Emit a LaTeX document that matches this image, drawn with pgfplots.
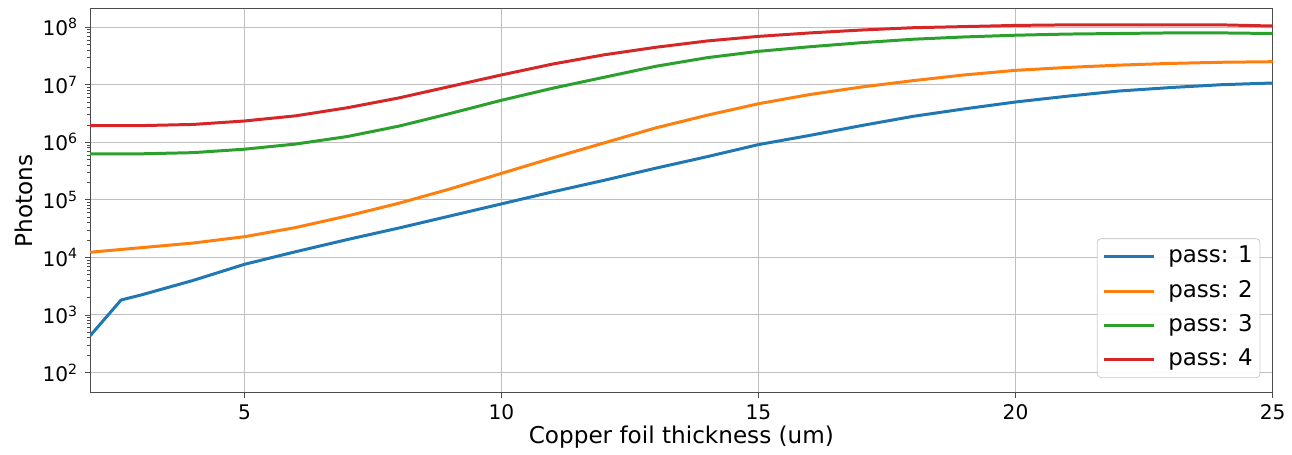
\documentclass[border=0pt]{standalone}
\usepackage{pgfplots}
\pgfplotsset{compat=1.18}
\usepackage{fontspec}
\setmainfont{DejaVu Sans}
\definecolor{c1}{HTML}{1F77B4}
\definecolor{c2}{HTML}{FF7F0E}
\definecolor{c3}{HTML}{2CA02C}
\definecolor{c4}{HTML}{D62728}
\begin{document}
\begin{tikzpicture}
\begin{axis}[name=ax,
  scale only axis, width=593pt, height=192.5pt,
  ymode=log, xmin=2, xmax=25, ymin=44.5, ymax=2.07e8,
  xtick={5,10,15,20,25},
  ytick={1e2,1e3,1e4,1e5,1e6,1e7,1e8},
  yticklabels={10\textsuperscript{2},10\textsuperscript{3},10\textsuperscript{4},10\textsuperscript{5},10\textsuperscript{6},10\textsuperscript{7},10\textsuperscript{8}},
  /pgf/number format/assume math mode=true,
  tick label style={font=\fontsize{10.1}{12}\selectfont},
  label style={font=\fontsize{11.6}{13}\selectfont},
  tick align=outside, tick pos=left,
  major tick length=2.5pt, minor tick length=1.5pt,
  every tick/.style={black!70, line width=0.4pt},
  axis line style={black!70, line width=0.5pt},
  grid=major, major grid style={color=black!25, line width=0.5pt},
  xlabel={Copper foil thickness (um)},
  ylabel={Photons},
  x label style={at={(axis description cs:0.5,-0.1143)}, anchor=center},
  y label style={at={(axis description cs:-0.0560,0.5)}, anchor=center},
  legend cell align=left,
  legend style={at={(axis description cs:0.9897,0.038)}, anchor=south east,
    draw=black!20, rounded corners=2pt, fill=white, fill opacity=0.9, text opacity=1,
    font=\fontsize{11.5}{13}\selectfont, inner sep=2.6pt, row sep=4.2pt, column sep=5.5pt,
    nodes={inner sep=1pt, text height=8.5pt, text depth=2.5pt}},
  legend image code/.code={\draw[#1] (0pt,0pt) -- (25pt,0pt);},
  every axis plot/.append style={line width=1.5pt, line join=round},
]
\addplot[c1] coordinates {
(2,437) (2.6,1820) (3,2239) (4,3981) (5,7586) (6,12589) (7,20417) (8,32359)
(9,52481) (10,85114) (11,138038) (12,218776) (13,354813) (14,562341) (15,912011)
(16,1.318e6) (17,1.950e6) (18,2.818e6) (19,3.802e6) (20,5.012e6) (21,6.310e6)
(22,7.762e6) (23,8.913e6) (24,1.0e7) (25,1.072e7)};
\addlegendentry{pass: 1}
\addplot[c2] coordinates {
(2,12303) (3,14791) (4,17783) (5,22909) (6,33113) (7,52481) (8,87096)
(9,154882) (10,288403) (11,537032) (12,977237) (13,1.778e6) (14,2.951e6)
(15,4.677e6) (16,6.761e6) (17,9.120e6) (18,1.175e7) (19,1.479e7) (20,1.778e7)
(21,1.995e7) (22,2.188e7) (23,2.344e7) (24,2.455e7) (25,2.512e7)};
\addlegendentry{pass: 2}
\addplot[c3] coordinates {
(2,6.310e5) (3,6.310e5) (4,6.607e5) (5,7.586e5) (6,9.333e5) (7,1.259e6)
(8,1.905e6) (9,3.162e6) (10,5.370e6) (11,8.710e6) (12,1.349e7) (13,2.089e7)
(14,2.951e7) (15,3.802e7) (16,4.571e7) (17,5.370e7) (18,6.166e7) (19,6.761e7)
(20,7.244e7) (21,7.586e7) (22,7.762e7) (23,7.943e7) (24,7.943e7) (25,7.762e7)};
\addlegendentry{pass: 3}
\addplot[c4] coordinates {
(2,1.950e6) (3,1.950e6) (4,2.042e6) (5,2.344e6) (6,2.884e6) (7,3.981e6)
(8,5.888e6) (9,9.333e6) (10,1.479e7) (11,2.291e7) (12,3.311e7) (13,4.467e7)
(14,5.754e7) (15,6.918e7) (16,7.943e7) (17,8.913e7) (18,9.772e7) (19,1.023e8)
(20,1.072e8) (21,1.096e8) (22,1.096e8) (23,1.096e8) (24,1.096e8) (25,1.047e8)};
\addlegendentry{pass: 4}
\end{axis}
\useasboundingbox ([shift={(-45.25pt,-28.5pt)}]ax.south west) rectangle ([shift={(7.65pt,4.5pt)}]ax.north east);
\end{tikzpicture}
\end{document}
